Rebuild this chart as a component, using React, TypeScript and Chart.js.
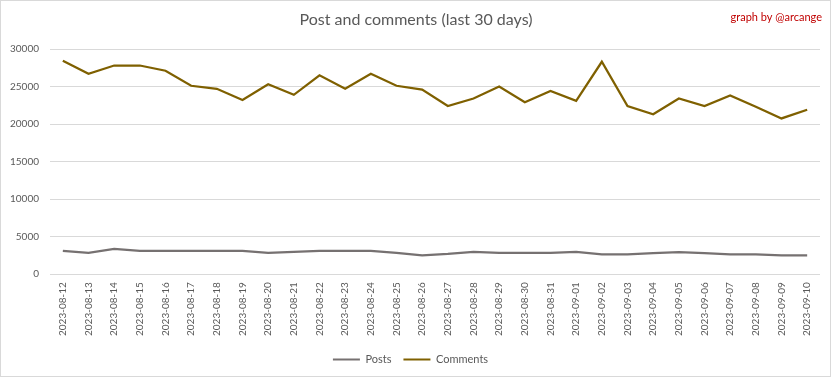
import React, { useEffect, useRef } from "react";
import { Chart, registerables } from "chart.js";

Chart.register(...registerables);

const TITLE = "Post and comments (last 30 days)";
const CREDIT = "graph by @arcange";

const dates = [
  "2023-08-12", "2023-08-13", "2023-08-14", "2023-08-15", "2023-08-16",
  "2023-08-17", "2023-08-18", "2023-08-19", "2023-08-20", "2023-08-21",
  "2023-08-22", "2023-08-23", "2023-08-24", "2023-08-25", "2023-08-26",
  "2023-08-27", "2023-08-28", "2023-08-29", "2023-08-30", "2023-08-31",
  "2023-09-01", "2023-09-02", "2023-09-03", "2023-09-04", "2023-09-05",
  "2023-09-06", "2023-09-07", "2023-09-08", "2023-09-09", "2023-09-10",
];

const posts = [
  3100, 2830, 3360, 3100, 3100, 3100, 3100, 3100, 2830, 2960,
  3100, 3100, 3100, 2850, 2520, 2700, 2960, 2850, 2850, 2850,
  2960, 2650, 2650, 2800, 2950, 2800, 2650, 2650, 2500, 2500,
];

const comments = [
  28450, 26700, 27800, 27800, 27100, 25100, 24700, 23200, 25300, 23900,
  26500, 24700, 26700, 25100, 24600, 22400, 23400, 25000, 22900, 24400,
  23100, 28300, 22400, 21300, 23400, 22400, 23800, 22300, 20750, 21900,
];

const FONT = "Lato, 'Open Sans', sans-serif";

const textPlugin = {
  id: "textPlugin",
  afterDraw(chart: any) {
    const ctx = chart.ctx;
    ctx.save();
    ctx.textBaseline = "middle";
    ctx.fillStyle = "#595959";
    ctx.font = `16px ${FONT}`;
    ctx.textAlign = "center";
    ctx.fillText(TITLE, 415, 19);
    ctx.fillStyle = "#c00000";
    ctx.font = `11px ${FONT}`;
    ctx.textAlign = "right";
    ctx.fillText(CREDIT, 821, 16);
    ctx.restore();
  },
};

export default function App() {
  const ref = useRef<HTMLCanvasElement>(null);
  useEffect(() => {
    document.body.style.margin = "0";
    document.body.style.background = "#ffffff";
    const chart = new Chart(ref.current!, {
      type: "line",
      data: {
        labels: dates,
        datasets: [
          {
            label: "Posts",
            data: posts,
            borderColor: "#767171",
            backgroundColor: "#767171",
            borderWidth: 2.25,
            pointRadius: 0,
            tension: 0,
          },
          {
            label: "Comments",
            data: comments,
            borderColor: "#7f6000",
            backgroundColor: "#7f6000",
            borderWidth: 2.25,
            pointRadius: 0,
            tension: 0,
          },
        ],
      },
      options: {
        responsive: false,
        animation: false,
        layout: { padding: { top: 48, left: 0, right: 10, bottom: 1 } },
        plugins: {
          title: { display: false },
          tooltip: { enabled: false },
          legend: {
            position: "bottom",
            labels: {
              boxWidth: 27,
              boxHeight: 2,
              padding: 12,
              color: "#595959",
              font: { family: FONT, size: 11 },
              generateLabels(chart: any) {
                const items = Chart.defaults.plugins.legend.labels.generateLabels(chart);
                return items.map((it: any) => ({ ...it, lineWidth: 0, fillStyle: it.strokeStyle }));
              },
            },
          },
        },
        scales: {
          x: {
            offset: true,
            afterFit(scale: any) {
              scale.height = scale.height - 2;
            },
            grid: { display: false, drawTicks: false },
            border: { display: false },
            ticks: {
              color: "#595959",
              font: { family: FONT, size: 10 },
              minRotation: 90,
              maxRotation: 90,
              padding: 8,
              autoSkip: false,
            },
          },
          y: {
            min: 0,
            max: 30000,
            afterFit(scale: any) {
              scale.width = 49;
            },
            grid: { color: "#d9d9d9", lineWidth: 1, drawTicks: false },
            border: { display: false },
            ticks: {
              stepSize: 5000,
              color: "#595959",
              font: { family: FONT, size: 10 },
              padding: 11,
              callback: (v: any) => String(v),
            },
          },
        },
      },
      plugins: [textPlugin],
    });
    return () => chart.destroy();
  }, []);
  return (
    <div
      style={{
        width: 831,
        height: 377,
        boxSizing: "border-box",
        border: "1px solid #d9d9d9",
        background: "#ffffff",
      }}
    >
      <canvas ref={ref} width={829} height={375} style={{ display: "block" }} />
    </div>
  );
}
